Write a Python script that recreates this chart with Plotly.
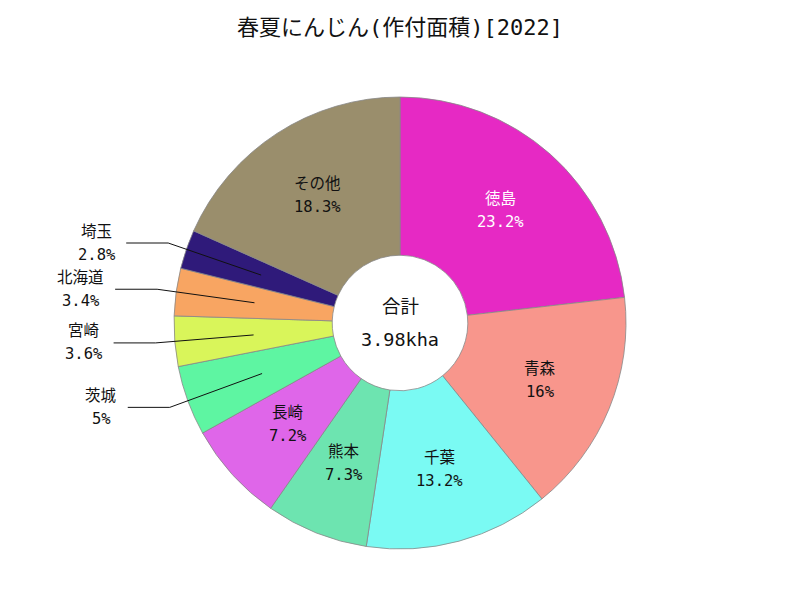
import math
import plotly.graph_objects as go

# ---- data (ha) ----
labels = ["徳島", "青森", "千葉", "熊本", "長崎", "茨城", "宮崎", "北海道", "埼玉", "その他"]
values = [923, 637, 525, 291, 287, 199, 143, 135, 111, 729]
colors = ["#E629C4", "#F8968C", "#7AFAF3", "#6DE4B0", "#DF66E9",
          "#5EF5A2", "#D9F55A", "#F8A562", "#2F1A7A", "#9A8E6C"]
outside = ["茨城", "宮崎", "北海道", "埼玉"]
title_text = "春夏にんじん(作付面積)[2022]"
center_title = "合計"
center_value = "3.98kha"

FONT = "DejaVu Sans Mono, Noto Sans CJK JP, sans-serif"
OFF = 8  # page body margin compensation
W, H = 800, 600
ML, MR, MT, MB = 80 - OFF, 80 + OFF, 97 - OFF, 51 + OFF
PW, PH = W - ML - MR, H - MT - MB
R = min(PW, PH) / 2
CX, CY = ML + PW / 2, MT + PH / 2
HOLE = 0.3


def to_paper(x, y):
    return (x - ML) / PW, 1 - (y - MT) / PH


def pct_str(v, tot):
    s = f"{round(1000 * v / tot) / 10:.1f}"
    if s.endswith(".0"):
        s = s[:-2]
    return s + "%"


def text_width(s, size):
    w = 0
    for ch in s:
        w += size if ord(ch) > 0x2E80 else 0.6 * size
    return w


total = sum(values)
fig = go.Figure(go.Pie(
    labels=labels, values=values, sort=False, direction="clockwise",
    rotation=0, hole=HOLE, textinfo="none",
    marker=dict(colors=colors, line=dict(color="#888888", width=0.8)),
    hoverinfo="label+value+percent",
    domain=dict(x=[0, 1], y=[0, 1]),
))

annotations = []
shapes = []
LS = 11.5  # half line spacing
FS = 15.5
cum = 0
for lab, v, col in zip(labels, values, colors):
    mid = (cum + v / 2) / total
    cum += v
    th = 2 * math.pi * mid
    pct = pct_str(v, total)
    if lab in outside:
        r1, r2 = 0.65 * R, 1.085 * R
        x1, y1 = CX + r1 * math.sin(th), CY - r1 * math.cos(th)
        x2, y2 = CX + r2 * math.sin(th), CY - r2 * math.cos(th)
        x3 = x2 - 42
        p1, p2, p3 = to_paper(x1, y1), to_paper(x2, y2), to_paper(x3, y2)
        shapes.append(dict(type="path", xref="paper", yref="paper",
                           path=f"M {p1[0]},{p1[1]} L {p2[0]},{p2[1]} L {p3[0]},{p3[1]}",
                           line=dict(color="#111111", width=1)))
        bw = max(text_width(lab, FS), text_width(pct, FS))
        tx = x3 - 11 - bw / 2
        ty = y2
        tcol = "#111111"
    else:
        rr = 0.67 * R
        tx, ty = CX + rr * math.sin(th), CY - rr * math.cos(th)
        tcol = "#FFFFFF" if lab == "徳島" else "#111111"
    for txt, dy in ((lab, -LS), (pct, LS)):
        px, py = to_paper(tx, ty + dy)
        annotations.append(dict(x=px, y=py, xref="paper", yref="paper",
                                text=txt, showarrow=False, xanchor="center",
                                yanchor="middle",
                                font=dict(family=FONT, size=FS, color=tcol)))

# center text
for txt, dy in ((center_title, -17), (center_value, 16)):
    px, py = to_paper(CX, CY + dy)
    annotations.append(dict(x=px, y=py, xref="paper", yref="paper", text=txt,
                            showarrow=False, xanchor="center", yanchor="middle",
                            font=dict(family=FONT, size=18.5, color="#111111")))

fig.update_layout(
    width=W, height=H,
    margin=dict(l=ML, r=MR, t=MT, b=MB),
    paper_bgcolor="white", plot_bgcolor="white",
    showlegend=False,
    title=dict(text=title_text, x=(400 - OFF) / W, xanchor="center",
               y=1 - (27 - OFF) / H, yanchor="middle",
               font=dict(family=FONT, size=22, color="#111111")),
    annotations=annotations, shapes=shapes,
    font=dict(family=FONT),
)

fig.write_html("out.html")
